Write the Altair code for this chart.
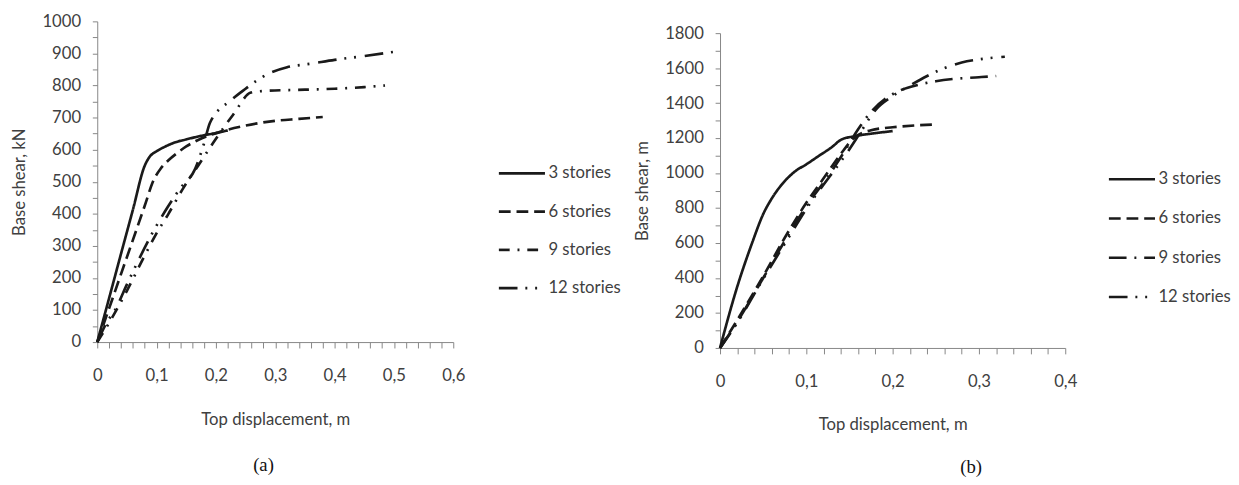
import altair as alt
import pandas as pd

SERIES = ["3 stories", "6 stories", "9 stories", "12 stories"]

# ---- panel (a) : base shear kN vs top displacement m ----
A3_X = [0, 0.02, 0.04, 0.06, 0.08, 0.088, 0.1, 0.115, 0.13, 0.15, 0.175, 0.2, 0.22]
A3_Y = [0, 137, 275, 412, 550, 577, 595, 610, 622, 632, 643, 652, 660]
A6_X = [0, 0.02, 0.04, 0.06, 0.08, 0.095, 0.107, 0.12, 0.135, 0.15, 0.17, 0.19, 0.21, 0.25, 0.3, 0.34, 0.38]
A6_Y = [0, 105, 212, 318, 425, 505, 541, 567, 590, 610, 630, 645, 657, 675, 690, 696, 702]
A9_X = [0, 0.02, 0.05, 0.08, 0.098, 0.12, 0.145, 0.17, 0.196, 0.229, 0.259, 0.28, 0.35, 0.4, 0.45, 0.485]
A9_Y = [0, 60, 160, 270, 333, 400, 480, 550, 623, 709, 778, 783, 787, 790, 795, 800]
A12_X = [0, 0.016, 0.03, 0.05, 0.066, 0.09, 0.119, 0.14, 0.165, 0.18, 0.19, 0.226, 0.25, 0.271, 0.29, 0.32, 0.36, 0.4, 0.45, 0.5]
A12_Y = [0, 61, 100, 180, 242, 330, 422, 480, 540, 620, 684, 755, 790, 818, 838, 857, 868, 880, 892, 905]

# ---- panel (b) ----
B3_X = [0, 0.019, 0.0375, 0.05, 0.06, 0.07, 0.087, 0.1, 0.115, 0.13, 0.14, 0.155, 0.175, 0.2]
B3_Y = [0, 335, 605, 765, 855, 925, 1010, 1050, 1100, 1150, 1190, 1210, 1225, 1240]
B6_X = [0, 0.02, 0.05, 0.075, 0.1, 0.12, 0.14, 0.155, 0.175, 0.2, 0.225, 0.25]
B6_Y = [0, 160, 410, 630, 830, 970, 1110, 1200, 1245, 1262, 1272, 1278]
B9_X = [0, 0.02, 0.05, 0.076, 0.102, 0.125, 0.145, 0.16, 0.175, 0.193, 0.21, 0.23, 0.25, 0.27, 0.3, 0.32]
B9_Y = [0, 150, 400, 620, 825, 980, 1130, 1250, 1350, 1430, 1475, 1505, 1525, 1538, 1548, 1555]
B12_X = [0, 0.02, 0.05, 0.078, 0.104, 0.127, 0.147, 0.163, 0.18, 0.2, 0.22, 0.24, 0.26, 0.28, 0.3, 0.33]
B12_Y = [0, 145, 395, 620, 825, 980, 1115, 1235, 1360, 1440, 1500, 1555, 1600, 1632, 1650, 1665]

A_X_TICKS = [round(i * 0.02, 2) for i in range(31)]
A_Y_TICKS = list(range(0, 1001, 50))
B_X_TICKS = [round(i * 0.02, 2) for i in range(21)]
B_Y_TICKS = list(range(0, 1801, 100))

DASH_A = [[1, 0], [12, 6], [11, 8, 2, 8], [19, 8, 2, 8, 2, 9]]
DASH_B = [[1, 0], [12, 6], [18, 8, 2, 8], [19, 8, 2, 8, 2, 9]]

FONT = "Lato"
GRAY = "#868686"
TXT = "#404040"


def frame(groups):
    rows = []
    for name, xs, ys in groups:
        for i, (xv, yv) in enumerate(zip(xs, ys)):
            rows.append({"series": name, "x": xv, "y": yv, "i": i})
    return pd.DataFrame(rows)


df_a = frame([(SERIES[0], A3_X, A3_Y), (SERIES[1], A6_X, A6_Y),
              (SERIES[2], A9_X, A9_Y), (SERIES[3], A12_X, A12_Y)])
df_b = frame([(SERIES[0], B3_X, B3_Y), (SERIES[1], B6_X, B6_Y),
              (SERIES[2], B9_X, B9_Y), (SERIES[3], B12_X, B12_Y)])

XLAB = "round(datum.value*100) % 10 == 0 ? replace(format(datum.value, '.1~f'), '.', ',') : ''"


def panel(df, xmax, xticks, ymax, yticks, ylabstep, ytitle, dashes, w, h, lx, ly, tpad, rpad):
    return alt.Chart(df).mark_line(
        strokeWidth=2.7, color="#1a1a1a", interpolate="monotone"
    ).encode(
        x=alt.X("x:Q", scale=alt.Scale(domain=[0, xmax], nice=False),
                axis=alt.Axis(values=xticks, labelExpr=XLAB, title="Top displacement, m",
                              tickSize=6, labelPadding=20, titlePadding=tpad,
                              labelOverlap=False, labelFlush=False)),
        y=alt.Y("y:Q", scale=alt.Scale(domain=[0, ymax], nice=False),
                axis=alt.Axis(values=yticks, format="d",
                              labelExpr=f"datum.value % {ylabstep} == 0 ? datum.label : ''",
                              title=ytitle, tickSize=5, labelPadding=12, titlePadding=14,
                              labelOverlap=False, labelFlush=False)),
        strokeDash=alt.StrokeDash(
            "series:N",
            scale=alt.Scale(domain=SERIES, range=dashes),
            legend=alt.Legend(orient="none", legendX=lx, legendY=ly, title=None,
                              symbolType="stroke", symbolSize=2209, symbolStrokeWidth=2.7,
                              symbolStrokeColor="#1a1a1a", labelFont=FONT, labelFontSize=17,
                              labelColor=TXT, rowPadding=rpad, labelOffset=2)),
        order="i:Q",
    ).properties(width=w, height=h)


left = panel(df_a, 0.6, A_X_TICKS, 1000, A_Y_TICKS, 100, "Base shear, kN", DASH_A,
             363, 327, 408, 130, 29, 6).properties(
    title=alt.TitleParams("(a)", orient="bottom", anchor="middle", frame="group",
                          font="Liberation Serif", fontSize=19, fontWeight="normal",
                          color="#111111", offset=29, dx=-12))

right_plot = panel(df_b, 0.4, B_X_TICKS, 1800, B_Y_TICKS, 200, "Base shear, m", DASH_B,
                   352, 321, 395, 136, 28, 7).properties(
    title=alt.TitleParams("(b)", orient="bottom", anchor="middle", frame="group",
                          font="Liberation Serif", fontSize=19, fontWeight="normal",
                          color="#111111", offset=26, dx=80))

# invisible 1px strip that lowers panel (b) relative to panel (a)
spacer = alt.Chart(pd.DataFrame({"v": [0]})).mark_point(opacity=0).encode(
    x=alt.value(0), y=alt.value(0)).properties(width=352, height=1)

right = alt.vconcat(spacer, right_plot, spacing=0)

chart = alt.hconcat(left, right, spacing=12).resolve_scale(
    strokeDash="independent").resolve_legend(strokeDash="independent").properties(
    padding={"left": 2, "top": 0, "right": 0, "bottom": 0}
).configure_view(stroke=None).configure_axis(
    grid=False, domainColor=GRAY, tickColor=GRAY, domainWidth=1, tickWidth=1,
    labelFont=FONT, labelFontSize=17, labelColor=TXT,
    titleFont=FONT, titleFontSize=17, titleFontWeight="normal", titleColor=TXT,
)

chart.save("out.html", embed_options={"renderer": "svg", "actions": False})
